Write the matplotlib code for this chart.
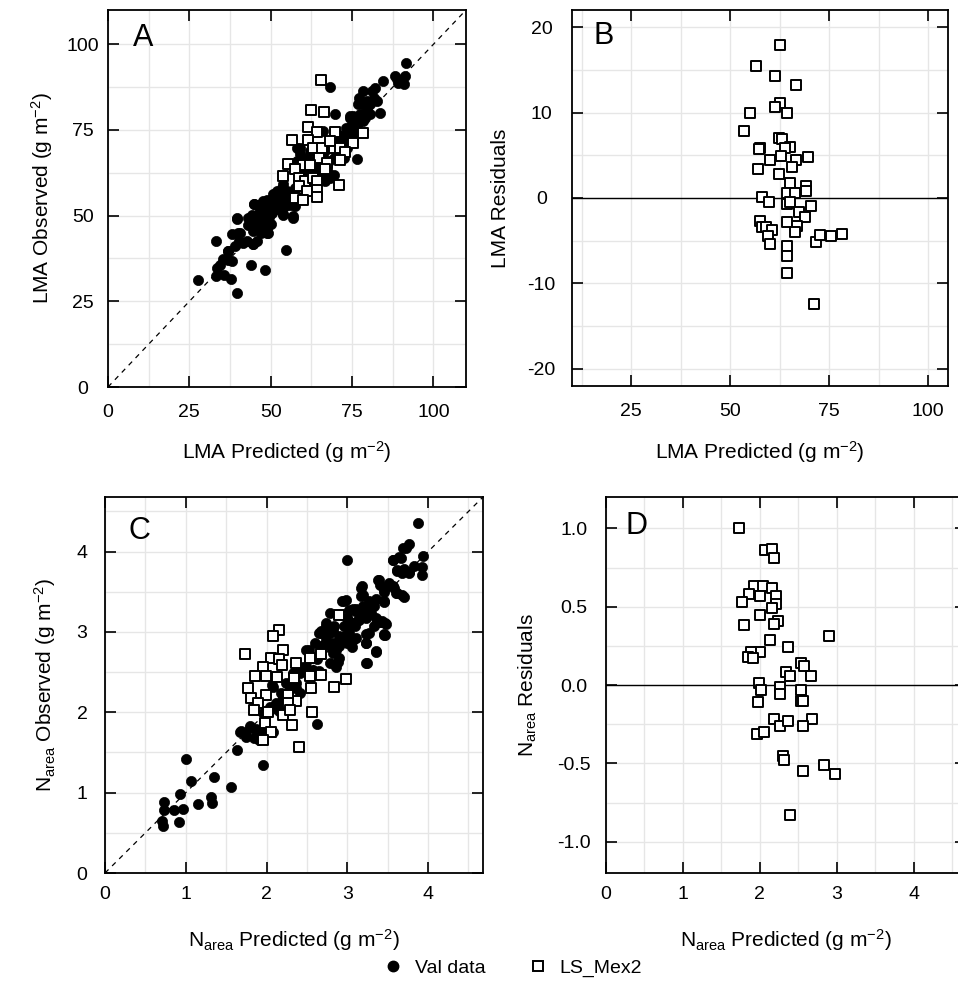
import matplotlib
matplotlib.use('Agg')
import matplotlib.pyplot as plt
from matplotlib.ticker import MultipleLocator, FixedLocator
from matplotlib.lines import Line2D

plt.rcParams['font.family'] = ['Liberation Sans', 'DejaVu Sans']
plt.rcParams['mathtext.fontset'] = 'custom'
plt.rcParams['mathtext.rm'] = 'Liberation Sans'
plt.rcParams['mathtext.it'] = 'Liberation Sans:italic'
plt.rcParams['mathtext.default'] = 'regular'
plt.rcParams['axes.unicode_minus'] = False

# ---------------- Panel A : LMA observed vs predicted ----------------
a_val_pred = [27.6, 39.5, 33.2, 33.6, 33.2, 34.4, 35.7, 37.0, 38.0, 37.8, 37.0, 39.0, 40.1, 39.5,
              38.0, 40.6, 42.6, 43.1, 43.8, 48.3, 44.7, 45.7, 44.7, 54.7, 45.0, 45.7, 46.7, 47.7,
              48.8, 48.3, 49.3, 47.2, 48.8, 50.8, 51.8, 52.9, 53.7, 50.8, 54.4, 56.8, 57.5, 58.0,
              59.0, 61.1, 55.0, 52.9, 49.8, 58.0, 59.0, 61.1, 63.1, 65.2, 67.2, 69.3, 68.2, 69.8,
              71.3, 73.4, 75.4, 76.4, 74.4, 75.4, 77.5, 78.0, 79.5, 79.5, 80.5, 81.6, 82.6, 83.6,
              82.1, 84.6, 81.1, 78.5, 69.8, 68.2, 76.4, 73.4, 72.4, 69.3, 66.7, 64.1, 63.1, 88.2,
              89.2, 90.3, 91.3, 91.6, 88.7, 90.8, 77.0, 75.9, 73.8, 70.3, 66.2, 60.0, 59.0, 57.5,
              55.9, 53.4, 55.0, 56.5, 49.3, 48.3, 46.2, 44.2, 43.1, 46.2, 44.7, 47.7, 50.3, 51.3,
              52.3, 74.4, 76.9, 76.5, 78.4, 75.3, 71.3, 66.1, 69.2, 62.1, 59.0, 58.1, 66.1, 68.2,
              53.8, 52.0, 40.0, 39.7, 44.9, 48.9, 44.6, 41.5, 36.9, 35.4, 56.9, 53.8,
              46.9, 48.0, 49.5, 50.5, 51.5, 47.5, 49.0, 52.0, 53.0, 46.0, 45.0, 47.0, 50.0, 54.0,
              56.0, 60.5, 62.5, 64.5, 66.0, 67.5, 70.5, 72.0, 68.0, 74.5, 77.5, 79.0, 80.5, 71.0,
              73.0]
a_val_obs = [31.1, 27.5, 42.7, 34.8, 32.3, 35.7, 32.8, 37.2, 36.7, 31.6, 39.6, 41.1, 42.6, 48.9,
             44.5, 45.0, 42.7, 49.4, 35.7, 34.0, 45.5, 42.6, 41.6, 40.1, 53.5, 50.3, 51.8, 54.2,
             54.7, 49.4, 45.0, 48.4, 46.4, 56.2, 56.7, 54.2, 50.3, 52.3, 52.8, 49.4, 52.8, 54.2,
             55.2, 58.1, 57.2, 52.3, 52.3, 69.8, 67.9, 66.9, 65.9, 62.0, 64.0, 66.9, 69.8, 72.7,
             71.8, 73.7, 74.7, 76.6, 78.6, 79.1, 79.6, 82.5, 83.4, 81.0, 79.6, 84.4, 83.4, 80.0,
             87.3, 89.3, 86.4, 86.4, 79.6, 87.5, 66.4, 69.8, 66.9, 62.0, 60.1, 62.0, 64.0, 90.7,
             88.8, 89.3, 90.7, 94.6, 89.8, 88.3, 84.4, 73.7, 71.8, 69.8, 67.9, 64.9, 62.0, 58.1,
             56.2, 58.1, 55.2, 54.2, 51.3, 52.3, 53.2, 50.3, 47.4, 46.4, 48.4, 50.3, 53.7, 54.7,
             53.3, 79.0, 82.5, 76.7, 77.6, 74.6, 71.1, 74.6, 69.7, 68.8, 69.7, 65.9, 63.0, 60.9,
             59.2, 57.1, 44.9, 49.2, 53.4, 44.9, 41.7, 42.0, 39.7, 37.3, 49.9, 50.4,
             53.0, 51.0, 49.5, 50.8, 51.8, 47.0, 48.0, 55.5, 56.0, 49.0, 47.0, 45.0, 47.5, 54.5,
             53.0, 62.5, 60.5, 64.0, 65.5, 62.5, 68.0, 70.0, 66.0, 76.0, 77.5, 78.5, 82.5, 73.5,
             75.5]
a_mex_pred = [65.4, 62.3, 66.5, 61.3, 64.3, 56.5, 61.6, 69.8, 78.5, 75.4, 63.1, 65.7, 69.3, 71.3,
              72.8, 64.7, 60.0, 62.1, 67.2, 71.3, 55.2, 57.5, 53.9, 58.8, 60.4, 63.1, 66.7, 64.1,
              58.8, 61.1, 64.1, 71.1, 57.5, 60.0, 64.1, 68.2]
a_mex_obs = [89.5, 80.7, 80.2, 75.9, 74.5, 72.0, 72.2, 74.5, 74.2, 71.3, 69.8, 69.8, 69.8, 69.8,
             68.6, 66.9, 64.9, 64.9, 65.4, 66.1, 65.2, 63.5, 61.5, 61.1, 60.1, 61.1, 63.5, 60.1,
             58.6, 57.2, 57.4, 58.8, 55.2, 54.5, 55.4, 71.8]

# ---------------- Panel B : LMA residuals ----------------
b_pred = [62.5, 56.4, 61.4, 66.7, 62.5, 61.4, 64.2, 55.0, 53.4, 57.4, 57.2, 62.2, 63.1, 65.1,
          63.7, 69.6, 62.8, 60.1, 66.5, 65.7, 57.0, 62.2, 65.0, 69.2, 69.2, 64.2, 66.3, 58.1,
          59.8, 64.2, 65.2, 70.5, 67.4, 68.8, 57.6, 57.9, 59.1, 60.6, 64.2, 66.9, 66.3, 59.4,
          60.0, 64.4, 64.2, 64.4, 71.6, 72.7, 75.5, 78.3, 71.1]
b_resid = [17.9, 15.4, 14.3, 13.2, 11.1, 10.7, 9.9, 10.0, 7.8, 5.9, 5.7, 7.0, 6.9, 6.0,
           5.9, 4.8, 4.9, 4.4, 4.4, 3.6, 3.4, 2.8, 1.7, 1.4, 0.8, 0.6, 0.6, 0.1,
           -0.5, -0.7, -0.5, -0.9, -1.6, -2.2, -2.7, -3.4, -3.4, -3.7, -2.8, -3.3, -4.0, -4.5,
           -5.4, -5.6, -6.8, -8.8, -5.2, -4.3, -4.4, -4.2, -12.4]

# ---------------- Panel C : Narea observed vs predicted ----------------
c_val_pred = [0.70, 0.72, 0.73, 0.73, 0.85, 0.91, 0.97, 0.93, 1.00, 1.06, 1.15, 1.31, 1.33, 1.35,
              1.56, 1.64, 1.95, 1.68, 1.75, 1.79, 1.85, 1.87, 1.97, 2.08, 2.62, 2.08, 2.16, 2.18,
              2.24, 2.30, 2.37, 2.41, 2.49, 2.57, 2.63, 2.67, 2.74, 2.78, 2.82, 2.86, 2.90, 2.88,
              2.96, 3.00, 3.07, 2.98, 2.96, 3.02, 3.10, 3.15, 3.19, 3.23, 3.18, 3.19, 3.27, 3.23,
              3.25, 3.35, 3.33, 3.37, 3.39, 3.45, 3.45, 3.47, 3.47, 3.56, 3.60, 3.68, 3.56, 3.66,
              3.61, 3.70, 3.77, 3.69, 3.77, 3.83, 3.87, 3.94, 3.93, 3.93, 3.00, 2.94, 2.74, 2.67,
              2.82, 2.53, 2.45, 2.33, 2.24, 2.20, 2.10, 2.04, 2.41, 2.78, 3.10, 3.29, 3.33, 3.07,
              2.78, 2.84, 2.60, 2.90, 3.07, 3.42, 3.52,
              3.56, 3.64, 3.73, 3.62, 3.68, 3.77, 3.38, 3.40, 3.46, 3.58, 3.62, 3.70, 3.17, 3.17,
              3.27, 3.36, 3.46, 2.96, 3.02, 3.11, 3.19, 3.23, 3.12, 3.02, 3.36, 3.40, 3.48, 3.23,
              3.46, 2.74, 2.82, 2.94, 2.68,
              2.65, 2.99, 3.15, 3.23, 3.43, 3.46, 3.23, 3.36, 3.23, 2.53, 2.65, 2.74, 2.82, 2.90,
              2.86, 2.99, 3.06, 3.11, 2.49, 2.41, 2.37, 2.28, 2.20, 2.12, 2.04, 2.16, 1.95, 2.25,
              2.07, 2.65, 2.78, 1.67, 1.79, 1.88, 1.75, 1.91]
c_val_obs = [0.65, 0.59, 0.88, 0.79, 0.79, 0.64, 0.80, 0.98, 1.42, 1.15, 0.86, 0.94, 0.87, 1.19,
             1.07, 1.53, 1.34, 1.77, 1.70, 1.83, 1.68, 1.79, 1.77, 1.75, 1.86, 2.32, 2.08, 2.24,
             2.12, 2.37, 2.30, 2.49, 2.78, 2.53, 2.66, 2.82, 2.90, 2.99, 2.86, 2.78, 2.95, 2.63,
             3.07, 3.17, 3.28, 3.40, 2.95, 2.99, 3.07, 3.15, 3.32, 3.19, 3.57, 3.46, 2.99, 2.86,
             2.61, 2.76, 3.32, 3.15, 3.65, 3.50, 3.38, 3.11, 2.96, 3.57, 3.48, 3.46, 3.90, 3.92,
             3.77, 3.78, 3.75, 4.04, 4.10, 3.82, 4.36, 3.94, 3.81, 3.71, 3.89, 3.39, 3.11, 3.01,
             2.74, 2.66, 2.57, 2.49, 2.37, 2.20, 2.08, 2.03, 2.24, 3.23, 3.26, 3.23, 3.07, 2.90,
             2.82, 3.07, 2.86, 2.82, 3.11, 3.13, 3.61,
             3.89, 3.93, 4.05, 3.76, 3.74, 3.73, 3.65, 3.58, 3.52, 3.55, 3.49, 3.44, 3.55, 3.45,
             3.39, 3.41, 3.37, 3.39, 3.27, 3.29, 3.30, 3.18, 3.14, 3.10, 3.17, 3.12, 3.10, 2.98,
             2.96, 3.08, 3.02, 2.93, 2.99,
             2.99, 3.18, 3.23, 3.30, 3.14, 2.98, 2.86, 2.75, 2.61, 2.77, 2.73, 2.86, 2.77, 2.68,
             2.56, 2.86, 2.81, 2.93, 2.56, 2.52, 2.36, 2.27, 2.19, 2.11, 2.06, 2.02, 1.99, 2.06,
             2.34, 2.52, 2.61, 1.75, 1.81, 1.74, 1.69, 1.65]
c_mex_pred = [2.16, 2.08, 1.73, 2.20, 2.06, 2.16, 1.95, 2.19, 2.37, 1.86, 1.99, 2.13, 2.34, 2.54,
              2.67, 2.54, 2.67, 2.98, 2.83, 2.55, 1.77, 1.99, 1.81, 1.89, 1.85, 2.02, 2.37, 2.27,
              2.20, 2.31, 1.98, 2.06, 1.96, 2.40, 2.56, 2.90, 2.27, 2.29]
c_mex_obs = [3.02, 2.95, 2.73, 2.78, 2.68, 2.66, 2.57, 2.59, 2.61, 2.45, 2.45, 2.44, 2.43, 2.68,
             2.73, 2.45, 2.46, 2.42, 2.32, 2.30, 2.30, 2.22, 2.18, 2.11, 2.03, 2.01, 2.14, 2.22,
             1.97, 1.84, 1.87, 1.76, 1.66, 1.57, 2.01, 3.21, 2.12, 2.03]

# ---------------- Panel D : Narea residuals ----------------
d_pred = [1.73, 2.07, 2.16, 2.18, 1.93, 2.04, 2.16, 1.86, 2.00, 2.21, 2.21, 1.77, 2.16, 2.00,
          2.24, 2.19, 1.80, 2.90, 2.13, 2.36, 2.00, 1.89, 1.84, 1.91, 2.54, 2.57, 2.34, 2.39,
          2.67, 1.99, 2.02, 2.26, 2.26, 2.54, 2.54, 2.56, 1.98, 2.18, 2.26, 2.36, 2.68, 2.56,
          1.96, 2.05, 2.30, 2.31, 2.56, 2.83, 2.98, 2.39]
d_resid = [1.00, 0.86, 0.87, 0.81, 0.63, 0.63, 0.62, 0.58, 0.57, 0.57, 0.52, 0.53, 0.49, 0.45,
           0.41, 0.39, 0.38, 0.31, 0.29, 0.24, 0.21, 0.21, 0.18, 0.17, 0.14, 0.12, 0.08, 0.06,
           0.06, 0.01, -0.03, -0.01, -0.06, -0.03, -0.10, -0.10, -0.11, -0.22, -0.26, -0.23, -0.22, -0.26,
           -0.31, -0.30, -0.45, -0.48, -0.55, -0.51, -0.57, -0.83]

# tick labels
ab_ticks = [0, 25, 50, 75, 100]
b_xticks = [25, 50, 75, 100]
b_yticks = [-20, -10, 0, 10, 20]
cd_ticks = [0, 1, 2, 3, 4]
d_yticks = [-1.0, -0.5, 0.0, 0.5, 1.0]
d_yticklabels = ['-1.0', '-0.5', '0.0', '0.5', '1.0']

series_names = ['Val data', 'LS_Mex2']

fig = plt.figure(figsize=(9.58, 9.83), dpi=100)

CIRC = dict(marker='o', s=54, c='black', edgecolors='black', linewidths=0.5, zorder=3)
SQ = dict(marker='s', s=46, facecolors='white', edgecolors='black', linewidths=1.4, zorder=4)
GRID = dict(color='#e6e6e6', linewidth=1.0)


def style(ax, xlim, ylim, xticks, yticks, xminor, yminor, ypad, xpad):
    ax.set_xlim(*xlim)
    ax.set_ylim(*ylim)
    ax.xaxis.set_major_locator(FixedLocator(xticks))
    ax.yaxis.set_major_locator(FixedLocator(yticks))
    ax.xaxis.set_minor_locator(MultipleLocator(xminor))
    ax.yaxis.set_minor_locator(MultipleLocator(yminor))
    ax.grid(which='both', **GRID)
    ax.set_axisbelow(True)
    ax.tick_params(which='major', direction='in', length=8, width=1.2,
                   top=True, right=True, labelsize=14, color='black')
    ax.tick_params(which='minor', length=0)
    ax.tick_params(axis='y', pad=ypad)
    ax.tick_params(axis='x', pad=xpad)
    for sp in ax.spines.values():
        sp.set_linewidth(1.3)
        sp.set_zorder(6)
    for lab in ax.get_yticklabels():
        lab.set_horizontalalignment('center')


def labels(ax, xl, yl, xl_pos, yl_pos):
    ax.set_xlabel(xl, fontsize=15)
    ax.set_ylabel(yl, fontsize=15)
    ax.xaxis.set_label_coords(0.5, xl_pos)
    ax.yaxis.set_label_coords(yl_pos, 0.5)
    ax.xaxis.label.set_verticalalignment('center')
    ax.yaxis.label.set_verticalalignment('center')


# Panel A
axA = fig.add_axes([108/958, 1-387/983, 358/958, 377/983])
axA.plot([0, 110], [0, 110], ls=(0, (4, 4)), color='black', lw=0.9, zorder=2)
axA.scatter(a_val_pred, a_val_obs, **CIRC)
axA.scatter(a_mex_pred, a_mex_obs, **SQ)
style(axA, (0, 110), (0, 110), ab_ticks, ab_ticks, 12.5, 12.5, 18, 12)
labels(axA, r'LMA Predicted (g m$^{-2}$)', r'LMA Observed (g m$^{-2}$)', -0.172, -0.184)
axA.text(0.098, 0.925, 'A', transform=axA.transAxes, fontsize=22, ha='center', va='center')

# Panel B
axB = fig.add_axes([572/958, 1-386/983, 376/958, 376/983])
axB.axhline(0, color='black', lw=1.0, zorder=2)
axB.scatter(b_pred, b_resid, **SQ)
style(axB, (10, 105), (-22, 22), b_xticks, b_yticks, 12.5, 5, 22, 12)
labels(axB, r'LMA Predicted (g m$^{-2}$)', 'LMA Residuals', -0.175, -0.189)
axB.text(0.085, 0.93, 'B', transform=axB.transAxes, fontsize=22, ha='center', va='center')

# Panel C
axC = fig.add_axes([105/958, 1-873/983, 378/958, 376/983])
axC.plot([0, 4.68], [0, 4.68], ls=(0, (4, 4)), color='black', lw=0.9, zorder=2)
axC.scatter(c_val_pred, c_val_obs, **CIRC)
axC.scatter(c_mex_pred, c_mex_obs, **SQ)
style(axC, (0, 4.68), (0, 4.68), cd_ticks, cd_ticks, 0.5, 0.5, 16.5, 9.5)
labels(axC, r'N$_{area}$ Predicted (g m$^{-2}$)', r'N$_{area}$ Observed (g m$^{-2}$)', -0.178, -0.159)
axC.text(0.09, 0.91, 'C', transform=axC.transAxes, fontsize=22, ha='center', va='center')

# Panel D (extends past right edge of the figure, as in the reference)
axD = fig.add_axes([606/958, 1-873/983, 360/958, 376/983])
axD.axhline(0, color='black', lw=1.0, zorder=2)
axD.scatter(d_pred, d_resid, **SQ)
style(axD, (0, 4.68), (-1.2, 1.2), cd_ticks, d_yticks, 0.5, 0.25, 23, 9.5)
axD.set_yticklabels(d_yticklabels)
for lab in axD.get_yticklabels():
    lab.set_horizontalalignment('center')
labels(axD, r'N$_{area}$ Predicted (g m$^{-2}$)', r'N$_{area}$ Residuals', -0.178, -0.217)
axD.text(0.086, 0.923, 'D', transform=axD.transAxes, fontsize=22, ha='center', va='center')

# Legend
handles = [Line2D([], [], marker='o', ls='none', color='black', markersize=7.5),
           Line2D([], [], marker='s', ls='none', markerfacecolor='white',
                  markeredgecolor='black', markeredgewidth=1.4, markersize=7.5)]
fig.legend(handles, series_names, loc='center', bbox_to_anchor=(0.535, 0.015), ncol=2,
           frameon=False, fontsize=14, handletextpad=0.6, columnspacing=2.2,
           handlelength=1.0)

fig.savefig('out.png', dpi=100)
